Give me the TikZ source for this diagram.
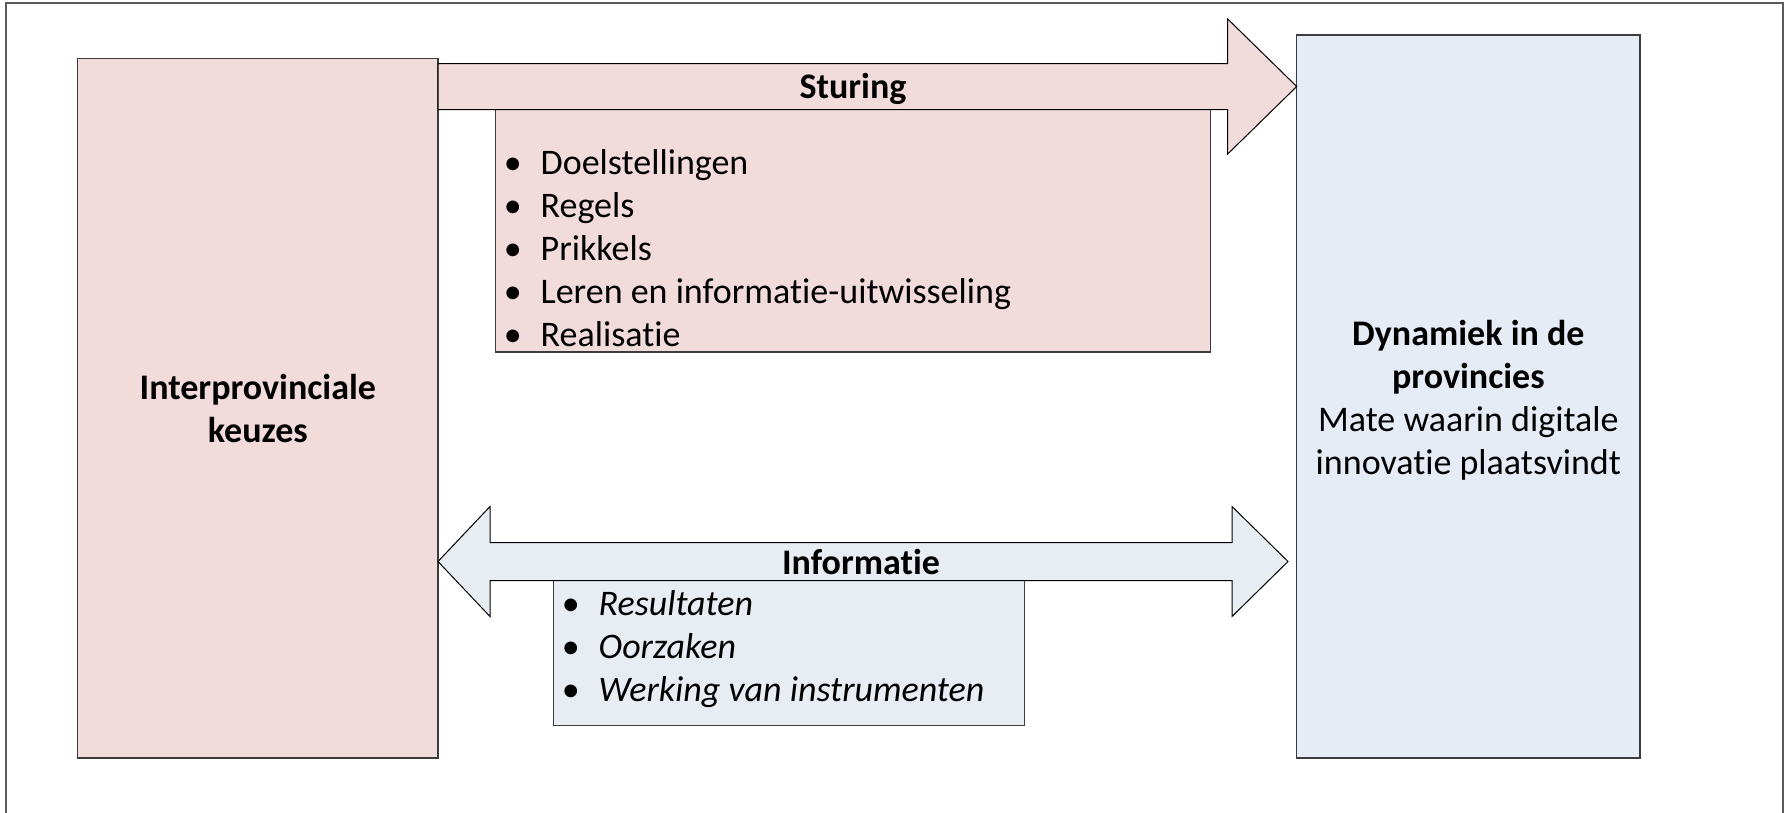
\documentclass[tikz,border=0pt]{standalone}
\usepackage{fontspec}
\setmainfont{Carlito}[Ligatures=NoCommon]
\usetikzlibrary{calc}

\definecolor{rosefill}{HTML}{F2DCDB}
\definecolor{bluefill}{HTML}{E5ECF6}
\definecolor{infofill}{HTML}{E8EDF4}
\definecolor{boxedge}{HTML}{3C3C3C}
\definecolor{frameedge}{HTML}{5A5A5A}

\newcommand\blt{\llap{\textbullet\hspace{19pt}}}

\begin{document}
\begin{tikzpicture}[x=1pt,y=-1pt,
  bigfont/.style={font=\fontsize{36}{43}\selectfont},
  panel/.style={draw=boxedge, line width=1.3pt, inner sep=0pt, outer sep=0pt,
                anchor=north west},
  paneltext/.style={bigfont, align=center, inner sep=0pt},
  listbox/.style={draw=boxedge, line width=1.1pt, inner sep=0pt, outer sep=0pt,
                  anchor=north west},
  blockarrow/.style={draw=black, line width=1pt, line join=miter},
  item/.style={bigfont, inner sep=0pt, anchor=base west},
  heading/.style={font=\fontsize{36}{43}\selectfont\bfseries, inner sep=0pt, anchor=base},
]
\useasboundingbox (0,0) rectangle (1784,812);

% outer frame
\draw[frameedge, line width=2pt] (5.7,2.7) rectangle (1782.7,830);

% the two main panels
\node[panel, fill=rosefill, minimum width=360.3pt, minimum height=699.3pt]
  (keuzes) at (77.7,58.7) {};
\node[paneltext] (keuzestext) at (keuzes.center)
  {\bfseries Interprovinciale\\\bfseries keuzes};
\node[panel, fill=bluefill, minimum width=343.3pt, minimum height=723pt]
  (dyn) at (1296.7,35) {};
\node[paneltext] (dyntext) at ($(dyn.center)+(0,3.5)$)
  {\bfseries Dynamiek in de\\\bfseries provincies\\Mate waarin digitale\\innovatie plaatsvindt};

% list boxes hanging under the arrows
\node[listbox, fill=rosefill, minimum width=715pt, minimum height=242.5pt]
  (stlist) at (495.7,109.5) {};
\node[listbox, fill=infofill, minimum width=471pt, minimum height=144.8pt]
  (inlist) at (553.3,580.5) {};

% Sturing: single block arrow from the left panel to the right panel
\coordinate (stmid) at (0,86.5);
\coordinate (sttail) at (keuzes.east |- stmid);
\coordinate (sttip) at (dyn.west |- stmid);
\draw[blockarrow, fill=rosefill]
  ($(sttail)+(0,-23)$) -- ($(sttip)+(-69,-23)$) -- ($(sttip)+(-69,-67.5)$)
  -- (sttip) -- ($(sttip)+(-69,67.5)$) -- ($(sttip)+(-69,23)$)
  -- ($(sttail)+(0,23)$) -- cycle;

% Informatie: double block arrow between the panels
\coordinate (inmid) at (0,561.5);
\coordinate (inleft) at (keuzes.east |- inmid);
\coordinate (inright) at ($(dyn.west |- inmid)+(-8.7,0)$);
\draw[blockarrow, fill=infofill]
  (inleft) -- ($(inleft)+(52,-55)$) -- ($(inleft)+(52,-19)$)
  -- ($(inright)+(-56,-19)$) -- ($(inright)+(-56,-55)$) -- (inright)
  -- ($(inright)+(-56,55)$) -- ($(inright)+(-56,19)$)
  -- ($(inleft)+(52,19)$) -- ($(inleft)+(52,55)$) -- cycle;

% headings
\node[heading] (sturing) at (853,98.5) {Sturing};
\node[heading] (informatie) at (861,574.5) {Informatie};

% bullet items
\foreach \t [count=\i] in {Doelstellingen, Regels, Prikkels,
    Leren en informatie-uitwisseling, Realisatie}
  \node[item] (st\i) at (540.5,{174+43*(\i-1)}) {\blt\t};
\foreach \t [count=\i] in {Resultaten, Oorzaken, Werking van instrumenten}
  \node[item] (in\i) at (598.5,{615.5+43*(\i-1)}) {\blt\itshape\t};
\end{tikzpicture}
\end{document}
